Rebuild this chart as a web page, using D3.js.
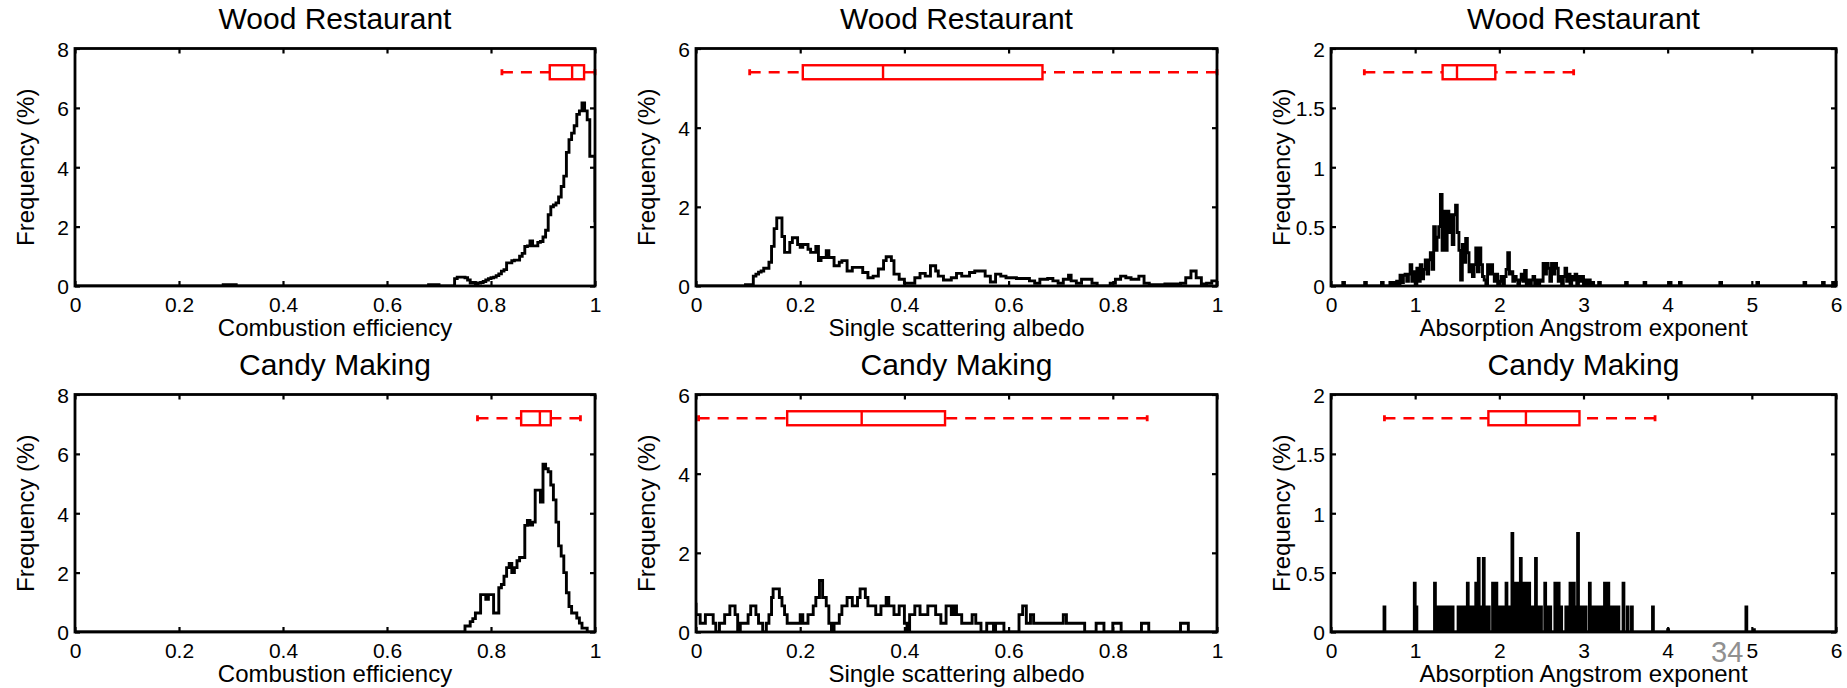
<!DOCTYPE html>
<html><head><meta charset="utf-8">
<script src="https://cdn.jsdelivr.net/npm/d3@7"></script>
<style>
html,body{margin:0;padding:0;background:#fff;}
svg{display:block;}
</style></head><body>
<svg id="chart" width="1847" height="688"></svg>
<script>
// ---------------- DATA ----------------
const rowTitles = ["Wood Restaurant", "Candy Making"];
const xLabels = ["Combustion efficiency", "Single scattering albedo", "Absorption Angstrom exponent"];
const yLabel = "Frequency (%)";
const xDomains = [[0, 1], [0, 1], [0, 6]];
const yDomains = [[0, 8], [0, 6], [0, 2]];
const xTickValues = [[0, 0.2, 0.4, 0.6, 0.8, 1], [0, 0.2, 0.4, 0.6, 0.8, 1], [0, 1, 2, 3, 4, 5, 6]];
const xTickLabels = [["0", "0.2", "0.4", "0.6", "0.8", "1"], ["0", "0.2", "0.4", "0.6", "0.8", "1"], ["0", "1", "2", "3", "4", "5", "6"]];
const yTickValues = [[0, 2, 4, 6, 8], [0, 2, 4, 6], [0, 0.5, 1, 1.5, 2]];
const yTickLabels = [["0", "2", "4", "6", "8"], ["0", "2", "4", "6"], ["0", "0.5", "1", "1.5", "2"]];
const boxLevel = [7.2, 5.4, 1.8];   // y value (data units) where the box plot sits, per column
const pageNumber = "34";

// Box plot statistics: [whisker low, Q1, median, Q3, whisker high]
const woodCEBox = [0.821, 0.913, 0.956, 0.979, 1.0];
const woodSSABox = [0.103, 0.205, 0.359, 0.665, 1.0];
const woodAAEBox = [0.396, 1.326, 1.497, 1.952, 2.883];
const candyCEBox = [0.774, 0.858, 0.894, 0.915, 0.972];
const candySSABox = [0.005, 0.175, 0.318, 0.478, 0.866];
const candyAAEBox = [0.635, 1.870, 2.316, 2.952, 3.850];

// Wood Restaurant - combustion efficiency (bin width 0.005 from 0.73)
const woodCEStart = 0.73, woodCEWidth = 0.005;
const woodCEValues = [
  0.25, 0.30, 0.30, 0.30, 0.28, 0.20, 0.10, 0.12, 0.08, 0.10,
  0.12, 0.15, 0.20, 0.25, 0.28, 0.30, 0.35, 0.41, 0.50, 0.55,
  0.78, 0.78, 0.85, 0.87, 0.87, 1.00, 1.10, 1.33, 1.35, 1.52,
  1.35, 1.35, 1.47, 1.50, 1.65, 1.88, 2.40, 2.67, 2.73, 2.80,
  3.00, 3.35, 3.70, 4.50, 4.93, 5.15, 5.40, 5.78, 5.90, 6.17,
  5.90, 5.60, 4.37, 4.37, 2.20];
const woodCEIsolated = [[0.285, 0.04], [0.29, 0.04], [0.295, 0.04], [0.30, 0.04], [0.305, 0.04],
  [0.68, 0.04], [0.685, 0.04], [0.69, 0.04], [0.695, 0.04]];

// Wood Restaurant - single scattering albedo (bin width 0.005 from 0.095)
const woodSSAStart = 0.095, woodSSAWidth = 0.005;
const woodSSAValues = [
  0.03, 0.03, 0.03, 0.25, 0.30, 0.35, 0.38, 0.45, 0.45, 0.60,
  1.00, 1.45, 1.72, 1.72, 1.25, 0.85, 0.85, 1.10, 1.22, 1.22,
  1.05, 0.98, 1.05, 1.05, 0.93, 0.85, 0.85, 1.00, 0.64, 0.72,
  0.72, 0.89, 0.72, 0.72, 0.51, 0.51, 0.60, 0.64, 0.64, 0.38,
  0.38, 0.47, 0.47, 0.47, 0.47, 0.34, 0.34, 0.21, 0.21, 0.25,
  0.25, 0.43, 0.43, 0.64, 0.74, 0.74, 0.64, 0.30, 0.30, 0.17,
  0.17, 0.07, 0.07, 0.07, 0.07, 0.21, 0.21, 0.32, 0.32, 0.25,
  0.25, 0.51, 0.51, 0.38, 0.25, 0.25, 0.15, 0.15, 0.15, 0.21,
  0.21, 0.32, 0.32, 0.25, 0.25, 0.25, 0.34, 0.34, 0.38, 0.38,
  0.38, 0.38, 0.25, 0.25, 0.10, 0.10, 0.30, 0.30, 0.25, 0.25,
  0.21, 0.21, 0.21, 0.21, 0.19, 0.19, 0.19, 0.19, 0.19, 0.13,
  0.13, 0.07, 0.07, 0.17, 0.17, 0.17, 0.19, 0.19, 0.13, 0.13,
  0.07, 0.07, 0.17, 0.17, 0.27, 0.13, 0.13, 0.07, 0.07, 0.17,
  0.17, 0.17, 0.17, 0.07, 0.07, 0, 0, 0, 0, 0,
  0.07, 0.07, 0.17, 0.17, 0.25, 0.25, 0.21, 0.21, 0.17, 0.17,
  0.17, 0.25, 0.25, 0.07, 0.07, 0.03, 0.03, 0.03, 0.03, 0.03,
  0.03, 0.05, 0.05, 0.05, 0.05, 0.05, 0.05, 0.07, 0.07, 0.21,
  0.21, 0.38, 0.38, 0.21, 0.21, 0.05, 0.05, 0.07, 0.07, 0.13,
  0.13];

// Wood Restaurant - absorption Angstrom exponent (bin width 0.02 from 0.74)
const woodAAEStart = 0.74, woodAAEWidth = 0.02;
const woodAAEValues = [
  0.03, 0, 0.04, 0, 0.09, 0.03, 0.09, 0.10, 0.04, 0.10,
  0.18, 0.04, 0.12, 0.02, 0.15, 0.04, 0.18, 0.06, 0.14, 0.22,
  0.10, 0.22, 0.28, 0.14, 0.50, 0.30, 0.41, 0.50, 0.77, 0.30,
  0.63, 0.30, 0.63, 0.45, 0.60, 0.35, 0.60, 0.68, 0.45, 0.30,
  0.05, 0.35, 0.20, 0.40, 0.28, 0.12, 0.18, 0.08, 0.18, 0.32,
  0.12, 0.32, 0.18, 0.08, 0.05, 0.02, 0.18, 0.10, 0.18, 0.10,
  0.04, 0.10, 0.02, 0.04, 0.08, 0.02, 0.08, 0.14, 0.28, 0.10,
  0.12, 0.04, 0.08, 0.05, 0.02, 0.05, 0.10, 0.04, 0.13, 0.02,
  0.05, 0.02, 0.05, 0.08, 0.02, 0.05, 0.02, 0.05, 0.04, 0.19,
  0.10, 0.19, 0.15, 0.04, 0.19, 0.10, 0.19, 0.15, 0.04, 0.08,
  0.02, 0.08, 0.15, 0.04, 0.10, 0.02, 0.08, 0.05, 0.10, 0.02,
  0.08, 0.04, 0.08, 0.02, 0.05, 0.02, 0.05, 0, 0.03, 0];
const woodAAEIsolated = [[0.14, 0.03], [0.40, 0.03], [0.60, 0.03], [0.70, 0.03], [3.18, 0.03], [3.50, 0.03],
  [3.72, 0.03], [4.02, 0.03], [4.14, 0.03], [4.62, 0.03], [5.06, 0.03], [5.62, 0.03], [5.84, 0.03], [5.96, 0.03]];

// Candy Making - combustion efficiency (bin width 0.005 from 0.75)
const candyCEStart = 0.75, candyCEWidth = 0.005;
const candyCEValues = [
  0.20, 0.20, 0.35, 0.45, 0.64, 0.64, 1.26, 1.26, 1.10, 1.26,
  1.26, 0.64, 0.64, 1.49, 1.60, 1.88, 2.17, 2.31, 2.00, 2.17,
  2.40, 2.51, 2.51, 3.59, 3.76, 3.60, 3.70, 4.78, 4.78, 4.38,
  5.65, 5.50, 5.40, 4.95, 4.45, 3.70, 2.90, 2.56, 2.00, 1.32,
  0.86, 0.64, 0.64, 0.47, 0.30, 0.13, 0.13];

// Candy Making - single scattering albedo (step edges and levels)
const candySSAEdges = [-0.005, 0, 0.008, 0.018, 0.033, 0.038, 0.045, 0.055, 0.065, 0.075, 0.080,
  0.085, 0.100, 0.105, 0.115, 0.120, 0.128, 0.135, 0.140, 0.145, 0.148, 0.160, 0.165, 0.170,
  0.175, 0.200, 0.205, 0.215, 0.225, 0.230, 0.237, 0.243, 0.250, 0.255, 0.260, 0.265, 0.275,
  0.280, 0.290, 0.300, 0.310, 0.315, 0.325, 0.330, 0.345, 0.355, 0.365, 0.370, 0.380, 0.390,
  0.400, 0.405, 0.410, 0.420, 0.430, 0.445, 0.460, 0.470, 0.480, 0.490, 0.495, 0.500, 0.510,
  0.530, 0.537, 0.547, 0.558, 0.571, 0.575, 0.591, 0.620, 0.627, 0.634, 0.642, 0.648, 0.705,
  0.711, 0.746, 0.768, 0.783, 0.800, 0.816, 0.855, 0.869, 0.930, 0.945, 1.0];
const candySSAValues = [0.70, 0.44, 0.22, 0.44, 0.22, 0, 0.22, 0.44, 0.66, 0.44,
  0, 0.22, 0.44, 0.66, 0.44, 0.22, 0, 0.22, 0.44, 0.87, 1.09, 0.87, 0.66,
  0.44, 0.22, 0.44, 0.22, 0.44, 0.66, 0.87, 1.30, 0.87, 0.66, 0.22, 0, 0.22,
  0.44, 0.66, 0.87, 0.66, 0.87, 1.09, 0.87, 0.66, 0.44, 0.66, 0.87, 0.66, 0.44,
  0.66, 0.22, 0, 0.44, 0.66, 0.44, 0.66, 0.44, 0.22, 0.66, 0.44, 0.66, 0.44,
  0.22, 0.44, 0.22, 0, 0.22, 0, 0.22, 0, 0.44, 0.66, 0.22, 0.44, 0.22,
  0.44, 0.22, 0, 0.22, 0, 0.22, 0, 0.22, 0, 0.22, 0];

// Candy Making - absorption Angstrom exponent (single 0.01-wide bins: [left edge, value])
const candyAAEWidth = 0.01;
const candyAAEBins = [[0.63, 0.21], [0.99, 0.41], [1.01, 0.21], [1.23, 0.41], [1.25, 0.21], [1.28, 0.21],
  [1.30, 0.21], [1.33, 0.21], [1.35, 0.21], [1.37, 0.21], [1.40, 0.21], [1.42, 0.21], [1.44, 0.21],
  [1.51, 0.21], [1.53, 0.21], [1.55, 0.21], [1.58, 0.21], [1.62, 0.41], [1.65, 0.21],
  [1.67, 0.21], [1.70, 0.21], [1.72, 0.41], [1.75, 0.62], [1.77, 0.21], [1.79, 0.21], [1.81, 0.62],
  [1.83, 0.21], [1.87, 0.21], [1.92, 0.41], [1.94, 0.41], [1.96, 0.41], [1.98, 0.21],
  [2.00, 0.21], [2.02, 0.21], [2.05, 0.21], [2.08, 0.41], [2.11, 0.21], [2.13, 0.21], [2.15, 0.83],
  [2.17, 0.41], [2.19, 0.41], [2.21, 0.41], [2.23, 0.21], [2.25, 0.62], [2.27, 0.21], [2.29, 0.41],
  [2.31, 0.41], [2.33, 0.21], [2.35, 0.41], [2.37, 0.21], [2.40, 0.21], [2.43, 0.62], [2.46, 0.21],
  [2.49, 0.21], [2.54, 0.41], [2.57, 0.21], [2.60, 0.21], [2.66, 0.41],
  [2.68, 0.21], [2.70, 0.41], [2.73, 0.21], [2.79, 0.21], [2.82, 0.21], [2.84, 0.41],
  [2.86, 0.41], [2.88, 0.41], [2.91, 0.21], [2.93, 0.83], [2.95, 0.21], [2.97, 0.21], [2.99, 0.21],
  [3.02, 0.21], [3.07, 0.41], [3.10, 0.21], [3.13, 0.21], [3.16, 0.21], [3.19, 0.21],
  [3.22, 0.21], [3.25, 0.41], [3.27, 0.21], [3.29, 0.41], [3.32, 0.21], [3.35, 0.21], [3.38, 0.21],
  [3.41, 0.21], [3.47, 0.41], [3.52, 0.21], [3.57, 0.21], [3.82, 0.21], [4.00, 0.02], [4.93, 0.21],
  [5.02, 0.02]];

// ---------------- HELPERS ----------------
function uniformBins(start, width, values) {
  return values.map((v, i) => ({x0: start + i * width, x1: start + (i + 1) * width, v}));
}
function sparseBins(list, width) {
  return list.map(([x, v]) => ({x0: x, x1: x + width, v}));
}
function edgeBins(edges, values) {
  return values.map((v, i) => ({x0: edges[i], x1: edges[i + 1], v}));
}
function stairPoints(bins, domain) {
  const b = bins.slice().sort((p, q) => p.x0 - q.x0);
  const pts = [];
  let cur = Math.min(domain[0], b[0].x0);
  for (const bin of b) {
    if (bin.x0 > cur + 1e-9) pts.push([cur, 0]);
    pts.push([bin.x0, bin.v]);
    cur = bin.x1;
  }
  pts.push([cur, 0]);
  const end = Math.max(domain[1], cur);
  if (end > cur) pts.push([end, 0]);
  return pts;
}

const histograms = [
  [
    uniformBins(woodCEStart, woodCEWidth, woodCEValues).concat(sparseBins(woodCEIsolated, woodCEWidth)),
    uniformBins(woodSSAStart, woodSSAWidth, woodSSAValues),
    uniformBins(woodAAEStart, woodAAEWidth, woodAAEValues).concat(sparseBins(woodAAEIsolated, woodAAEWidth))
  ],
  [
    uniformBins(candyCEStart, candyCEWidth, candyCEValues),
    edgeBins(candySSAEdges, candySSAValues),
    sparseBins(candyAAEBins, candyAAEWidth)
  ]
];
const boxes = [[woodCEBox, woodSSABox, woodAAEBox], [candyCEBox, candySSABox, candyAAEBox]];

// ---------------- LAYOUT ----------------
const colX = [[75, 595], [696, 1217], [1331, 1836]];
const rowY = [[48.5, 286], [394.5, 632]];
const FONT = '"Liberation Sans", Arial, Helvetica, sans-serif';
const RED = "#ff0000";

const svg = d3.select("#chart");
svg.append("rect").attr("width", 1847).attr("height", 688).attr("fill", "#fff");
const defs = svg.append("defs");
const stairs = d3.line().curve(d3.curveStepAfter);

let idx = 0;
for (let r = 0; r < 2; r++) {
  for (let c = 0; c < 3; c++) {
    const [L, R] = colX[c];
    const [T, B] = rowY[r];
    const x = d3.scaleLinear().domain(xDomains[c]).range([L, R]);
    const y = d3.scaleLinear().domain(yDomains[c]).range([B, T]);
    const g = svg.append("g");
    const clipId = "clip" + (idx++);
    defs.append("clipPath").attr("id", clipId).append("rect")
      .attr("x", L).attr("y", T).attr("width", R - L).attr("height", B - T);

    // histogram (stairs)
    const pts = stairPoints(histograms[r][c], xDomains[c]).map(([a, b]) => [x(a), y(b)]);
    g.append("path").attr("clip-path", `url(#${clipId})`)
      .attr("d", stairs(pts)).attr("fill", "none")
      .attr("stroke", "#000").attr("stroke-width", 2.9).attr("stroke-linejoin", "miter");

    // box plot
    const [mn, q1, md, q3, mx] = boxes[r][c];
    const by = y(boxLevel[c]);
    const bh = 7;
    const bg = g.append("g").attr("stroke", RED).attr("fill", "none").attr("stroke-width", 2.4);
    bg.append("line").attr("x1", x(mn)).attr("x2", x(q1)).attr("y1", by).attr("y2", by)
      .attr("stroke-dasharray", "11,8");
    bg.append("line").attr("x1", x(mx)).attr("x2", x(q3)).attr("y1", by).attr("y2", by)
      .attr("stroke-dasharray", "11,8");
    bg.append("line").attr("x1", x(mn)).attr("x2", x(mn)).attr("y1", by - 3).attr("y2", by + 3).attr("stroke-width", 2.8);
    bg.append("line").attr("x1", x(mx)).attr("x2", x(mx)).attr("y1", by - 3).attr("y2", by + 3).attr("stroke-width", 2.8);
    bg.append("rect").attr("x", x(q1)).attr("y", by - bh).attr("width", x(q3) - x(q1)).attr("height", 2 * bh);
    bg.append("line").attr("x1", x(md)).attr("x2", x(md)).attr("y1", by - bh).attr("y2", by + bh);

    // axes
    const styleAxis = (sel) => {
      sel.select(".domain").remove();
      sel.selectAll(".tick line").attr("stroke", "#000").attr("stroke-width", 2.2);
      sel.selectAll("text").attr("font-size", 21).attr("font-family", FONT).attr("fill", "#000");
    };
    g.append("g").attr("transform", `translate(0,${B})`)
      .call(d3.axisBottom(x).tickValues(xTickValues[c]).tickFormat((d, i) => xTickLabels[c][i])
        .tickSizeInner(-5).tickSizeOuter(0).tickPadding(11))
      .call(styleAxis);
    g.append("g").attr("transform", `translate(0,${T})`)
      .call(d3.axisTop(x).tickValues(xTickValues[c]).tickFormat(() => "").tickSizeInner(-5).tickSizeOuter(0))
      .call(styleAxis);
    const la = g.append("g").attr("transform", `translate(${L},0)`)
      .call(d3.axisLeft(y).tickValues(yTickValues[c]).tickFormat((d, i) => yTickLabels[c][i])
        .tickSizeInner(-5).tickSizeOuter(0).tickPadding(6))
      .call(styleAxis);
    la.selectAll("text").attr("dy", "0.38em");
    g.append("g").attr("transform", `translate(${R},0)`)
      .call(d3.axisRight(y).tickValues(yTickValues[c]).tickFormat(() => "").tickSizeInner(-5).tickSizeOuter(0))
      .call(styleAxis);

    // frame
    g.append("rect").attr("x", L).attr("y", T).attr("width", R - L).attr("height", B - T)
      .attr("fill", "none").attr("stroke", "#000").attr("stroke-width", 2.8);

    // texts
    g.append("text").attr("x", (L + R) / 2).attr("y", T - 20)
      .attr("text-anchor", "middle").attr("font-family", FONT).attr("font-size", 30).attr("fill", "#000")
      .text(rowTitles[r]);
    g.append("text").attr("x", (L + R) / 2).attr("y", B + 50)
      .attr("text-anchor", "middle").attr("font-family", FONT).attr("font-size", 24).attr("fill", "#000")
      .text(xLabels[c]);
    g.append("text").attr("transform", `translate(${L - 41},${(T + B) / 2}) rotate(-90)`)
      .attr("text-anchor", "middle").attr("font-family", FONT).attr("font-size", 24).attr("fill", "#000")
      .text(yLabel);
  }
}

svg.append("text").attr("x", 1711).attr("y", 662).attr("font-family", FONT).attr("font-size", 29)
  .attr("fill", "#909090").text(pageNumber);
</script>
</body></html>
